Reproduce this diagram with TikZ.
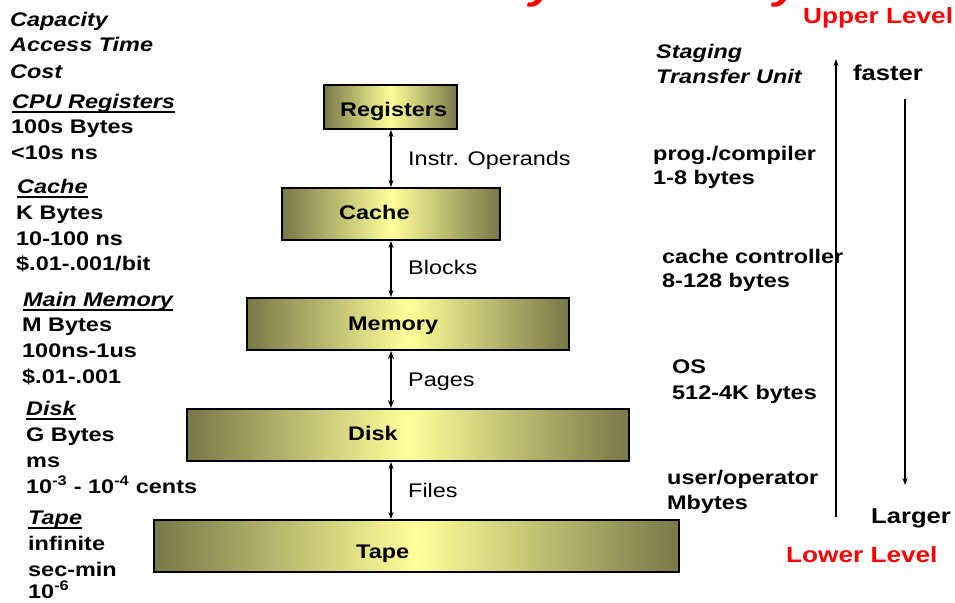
\documentclass[tikz,border=0pt]{standalone}
\usepackage{fontspec}
\setmainfont{Liberation Sans}[FakeStretch=1.19]
\usetikzlibrary{arrows.meta}

\definecolor{tierdark}{RGB}{120,120,72}
\definecolor{tierlight}{RGB}{255,255,153}
\definecolor{levelred}{RGB}{255,0,0}

\tikzset{
  txt/.style={anchor=base west, inner sep=0pt, font=\fontsize{19.7}{23}\selectfont\bfseries},
  hdr/.style={anchor=base west, inner sep=0pt, font=\fontsize{19.7}{23}\selectfont\bfseries\itshape},
  plain/.style={anchor=base west, inner sep=0pt, font=\fontsize{19.7}{23}\selectfont},
  trend/.style={anchor=base west, inner sep=0pt, font=\fontsize{21.5}{25}\selectfont\bfseries},
  levelname/.style={anchor=base west, inner sep=0pt, text=levelred, font=\fontsize{22}{26}\selectfont\bfseries},
  headline/.style={anchor=base east, inner sep=0pt, text=levelred, font=\fontsize{42}{48}\selectfont\bfseries\itshape},
  tier/.style={draw=black, line width=2pt, inner sep=0pt,
    left color=tierdark, right color=tierdark, middle color=tierlight},
  tiertext/.style={anchor=base west, inner sep=0pt, font=\fontsize{19.7}{23}\selectfont\bfseries},
  link/.style={{Stealth[length=7pt,width=5pt]}-{Stealth[length=7pt,width=5pt]}, line width=1.1pt},
  thicklink/.style={{Stealth[length=8pt,width=6pt]}-{Stealth[length=8pt,width=6pt]}, line width=2.2pt},
  trendarrow/.style={-{Stealth[length=7pt,width=5pt]}, line width=1.1pt},
  uline/.style={line width=1.3pt},
}

% underlined level heading in the left column
\newcommand\levelhead[3]{%
  \node[hdr] (#1) at (#2) {#3};
  \draw[uline] ([yshift=-4pt]#1.base west) -- ([yshift=-4pt]#1.base east);
}

\begin{document}
\begin{tikzpicture}[x=1pt,y=-1pt]
\useasboundingbox (0,0) rectangle (955,602);

% slide headline, almost entirely above the visible area
\begin{scope}
  \clip (0,0) rectangle (955,602);
  \node[headline] (headline) at (802,-1) {Levels of the Memory Hierarchy};
\end{scope}

% the five levels
\node[tier, minimum width=133pt, minimum height=44pt] (reg)   at (390.5,107) {};
\node[tier, minimum width=218pt, minimum height=52pt] (cache) at (391,214) {};
\node[tier, minimum width=322pt, minimum height=52pt] (mem)   at (408,324) {};
\node[tier, minimum width=442pt, minimum height=52pt] (disk)  at (408,435) {};
\node[tier, minimum width=525pt, minimum height=52pt] (tape)  at (416.5,546) {};

\node[tiertext] (regtxt)   at (340,116.7) {Registers};
\node[tiertext] (cachetxt) at (339,219)   {Cache};
\node[tiertext] (memtxt)   at (348,330)   {Memory};
\node[tiertext] (disktxt)  at (348,440)   {Disk};
\node[tiertext] (tapetxt)  at (356,558)   {Tape};

% transfers between levels
\coordinate (axis) at (391,0);
\draw[link]      (reg.south -| axis)   -- (cache.north -| axis);
\draw[link]      (cache.south -| axis) -- (mem.north -| axis);
\draw[thicklink] (mem.south -| axis)   -- (disk.north -| axis);
\draw[link]      (disk.south -| axis)  -- (tape.north -| axis);

\node[plain] (l1) at (408,165) {Instr. Operands};
\node[plain] (l2) at (408,274) {Blocks};
\node[plain] (l3) at (408,386) {Pages};
\node[plain] (l4) at (408,497) {Files};

% left column: capacity, access time, cost
\node[hdr] (capacity) at (10,27) {Capacity};
\node[hdr] (access)   at (10,52) {Access Time};
\node[hdr] (cost)     at (10,78) {Cost};

\levelhead{hreg}{12,108}{CPU Registers}
\node[txt] at (11,133) {100s Bytes};
\node[txt] at (11,159) {<10s ns};

\levelhead{hcache}{17,193}{Cache}
\node[txt] at (16,219) {K Bytes};
\node[txt] at (16,245) {10-100 ns};
\node[txt] at (16,270) {\$.01-.001/bit};

\levelhead{hmem}{23,306}{Main Memory}
\node[txt] at (22,331) {M Bytes};
\node[txt] at (22,357) {100ns-1us};
\node[txt] at (22,383) {\$.01-.001};

\levelhead{hdisk}{26,415}{Disk}
\node[txt] at (26,441) {G Bytes};
\node[txt] at (26,467) {ms};
\node[txt] at (26,493) {10\textsuperscript{-3} - 10\textsuperscript{-4} cents};

\levelhead{htape}{28,524}{Tape}
\node[txt] at (28,550) {infinite};
\node[txt] at (28,576) {sec-min};
\node[txt] at (28,598) {10\textsuperscript{-6}};

% right column: staging transfer unit
\node[hdr] (staging)  at (656,59) {Staging};
\node[hdr] (transfer) at (656,83) {Transfer Unit};
\node[txt] at (653,160) {prog./compiler};
\node[txt] at (653,184) {1-8 bytes};
\node[txt] at (662,263) {cache controller};
\node[txt] at (662,287) {8-128 bytes};
\node[txt] at (672,373) {OS};
\node[txt] at (672,399) {512-4K bytes};
\node[txt] at (667,484) {user/operator};
\node[txt] at (667,509) {Mbytes};

% speed and size trends
\node[levelname] (upper) at (803,24)  {Upper Level};
\node[levelname] (lower) at (786,562) {Lower Level};
\node[trend] (faster) at (853,80)  {faster};
\node[trend] (larger) at (871,523) {Larger};

\coordinate (upfoot) at (836,517);
\coordinate (uptip)  at (836,59);
\coordinate (downtop) at (905,99);
\coordinate (downtip) at (905,485);
\draw[trendarrow] (upfoot) -- (uptip);
\draw[trendarrow] (downtop) -- (downtip);
\end{tikzpicture}
\end{document}
